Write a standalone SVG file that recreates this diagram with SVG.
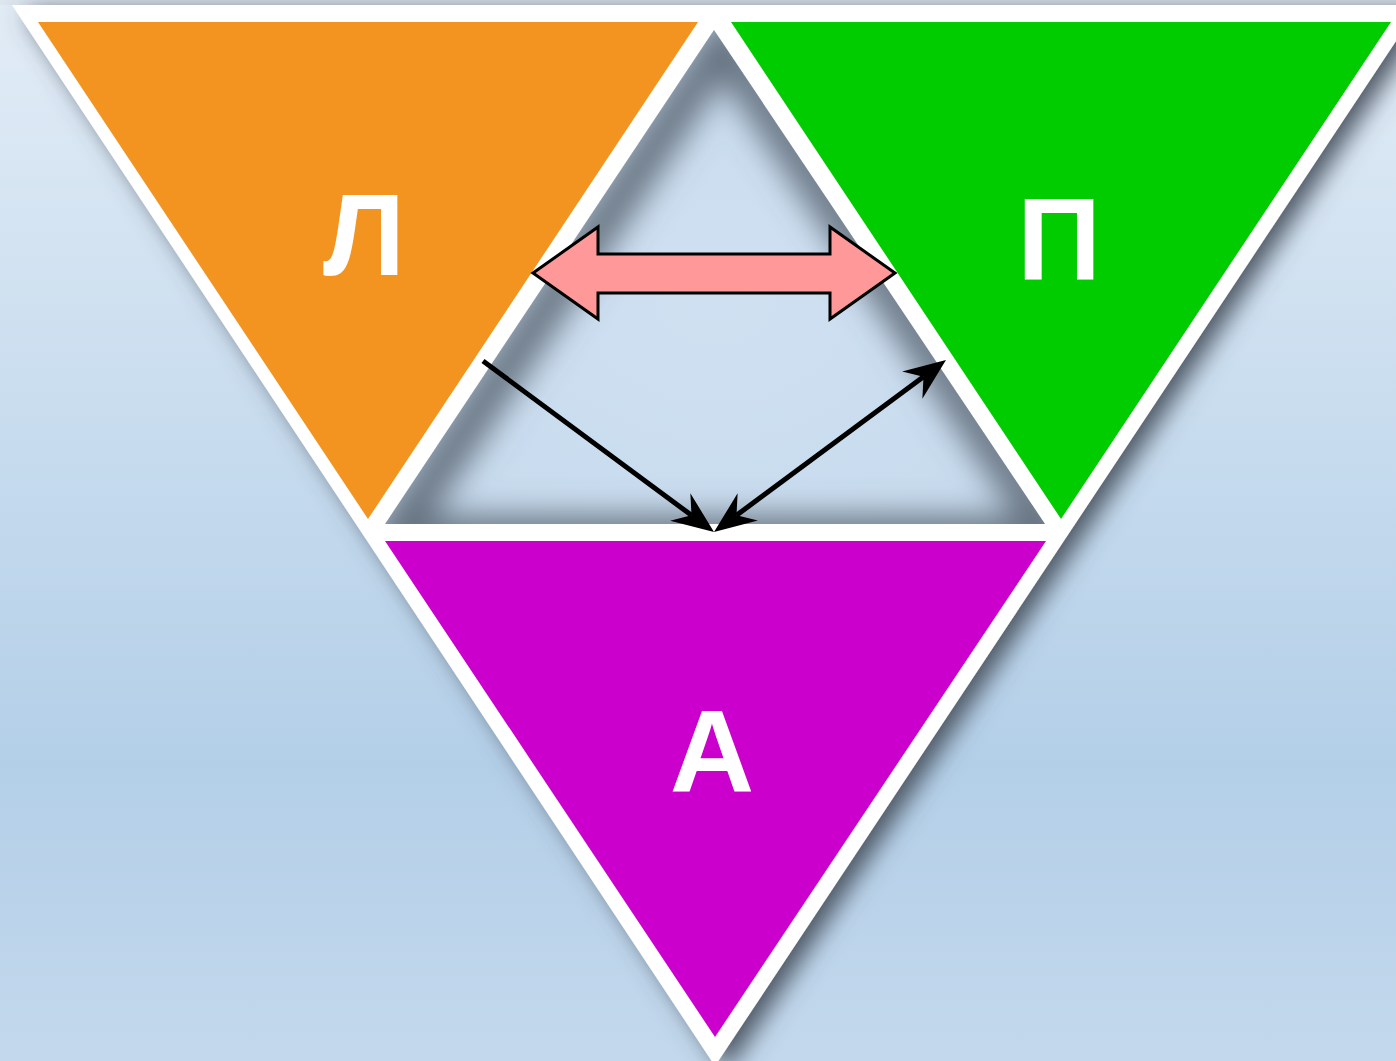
<svg xmlns="http://www.w3.org/2000/svg" width="1396" height="1061" viewBox="0 0 1396 1061">
  <defs>
    <linearGradient id="bg" x1="0" y1="0" x2="0" y2="1">
      <stop offset="0" stop-color="#e2ecf6"/>
      <stop offset="0.72" stop-color="#b3cfe8"/>
      <stop offset="1" stop-color="#c3d8ec"/>
    </linearGradient>
    <radialGradient id="inner" cx="0.5" cy="0.55" r="0.6">
      <stop offset="0" stop-color="#cfe0f1"/>
      <stop offset="1" stop-color="#c7dbee"/>
    </radialGradient>
    <filter id="drop" x="-10%" y="-10%" width="125%" height="125%">
      <feGaussianBlur in="SourceAlpha" stdDeviation="12"/>
      <feOffset dx="12" dy="6" result="b"/>
      <feFlood flood-color="#46505d" flood-opacity="0.95"/>
      <feComposite in2="b" operator="in"/>
      <feMerge><feMergeNode/><feMergeNode in="SourceGraphic"/></feMerge>
    </filter>
    <filter id="soft" x="-20%" y="-20%" width="140%" height="140%">
      <feGaussianBlur stdDeviation="16"/>
    </filter>
    <clipPath id="cclip">
      <polygon points="714,30 385,524 1045,524"/>
    </clipPath>
    <marker id="ah" viewBox="-18 -20 52 40" refX="0" refY="0" markerWidth="52" markerHeight="40" markerUnits="userSpaceOnUse" orient="auto-start-reverse">
      <path d="M28,0 L-14,-17 L0,0 L-14,17 Z" fill="#000"/>
    </marker>
    <style>
      .lbl { font-family: "Liberation Sans", Arial, sans-serif; font-weight: bold; font-size: 117px; fill: #ffffff; text-anchor: middle; }
      .conn { stroke: #000; stroke-width: 5; fill: none; }
    </style>
  </defs>

  <rect x="0" y="0" width="1396" height="1061" fill="url(#bg)"/>
  <rect x="0" y="0" width="1396" height="5" fill="#dde5ee"/>

  <g id="frame">
    <polygon points="12,5 1420,5 715,1066" fill="#ffffff" filter="url(#drop)"/>
  </g>

  <g id="center">
    <polygon points="714,30 385,524 1045,524" fill="url(#inner)"/>
    <g clip-path="url(#cclip)">
      <polygon points="714,30 385,524 1045,524" transform="translate(9,12)" fill="none" stroke="#5b6673" stroke-width="40" stroke-opacity="0.9" filter="url(#soft)"/>
    </g>
  </g>

  <g id="node-L">
    <polygon points="38,22 698,22 368,519" fill="#f2941f"/>
    <text class="lbl" x="364" y="275">Л</text>
  </g>

  <g id="node-P">
    <polygon points="731,22 1391,22 1061,519" fill="#00cc00"/>
    <text class="lbl" x="1059" y="280">П</text>
  </g>

  <g id="node-A">
    <polygon points="385,541 1046,541 715,1037" fill="#cc00cc"/>
    <text class="lbl" x="712" y="792">А</text>
  </g>

  <g id="connectors">
    <polygon points="533,273 598,227 598,254 830,254 830,227 895,273 830,319 830,293 598,293 598,319" fill="#ff9999" stroke="#000" stroke-width="3" stroke-linejoin="miter"/>
    <line class="conn" x1="483" y1="361" x2="691.5" y2="515.3" marker-end="url(#ah)"/>
    <line class="conn" x1="736.5" y1="515.3" x2="923.5" y2="376.7" marker-start="url(#ah)" marker-end="url(#ah)"/>
  </g>
</svg>
